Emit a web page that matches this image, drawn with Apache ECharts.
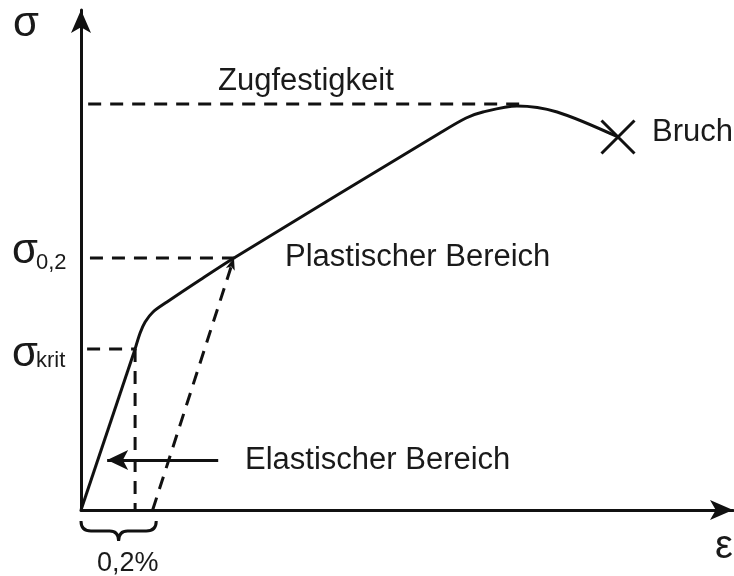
<!DOCTYPE html>
<html>
<head>
<meta charset="utf-8">
<script src="https://cdn.jsdelivr.net/npm/echarts@6/dist/echarts.min.js"></script>
<style>
  html, body { margin: 0; padding: 0; background: #fff; }
  #chart { width: 734px; height: 576px; }
</style>
</head>
<body>
<div id="chart"></div>
<script>
// Spannungs-Dehnungs-Diagramm (schematisch), Dehnung in %, Spannung in MPa
const elasticStrain = [0, 0.151];
const elasticStress = [0, 161];
const curveStrain = [0.151, 0.165, 0.179, 0.201, 0.240, 0.332, 0.427, 1.002, 1.075, 1.122, 1.217, 1.329, 1.499];
const curveStress = [161, 177, 188, 198, 208, 230, 252, 377, 392, 398, 404, 398, 373];
const tensileStrength = 406;      // Zugfestigkeit
const tensileStrain = 1.239;      // Ende der gestrichelten Linie
const sigma02 = 252;
const sigma02Strain = 0.427;
const sigmaKrit = 161;
const sigmaKritStrain = 0.151;
const offsetStrain = 0.2;         // 0,2 % bleibende Dehnung
const breakPoint = [1.499, 373];  // Bruch
const arrowFrom = [0.383, 50];
const arrowTo = [0.073, 50];
const brace = [0, 0.21];

const ink = "#111";
const font = "'Liberation Sans', Arial, sans-serif";
const dash = [13, 9];

function pairs(xs, ys) {
  return xs.map((x, i) => [x, ys[i]]);
}

function dashed(data) {
  return {
    type: "line",
    data: data,
    symbol: "none",
    silent: true,
    lineStyle: { color: ink, width: 3, type: dash }
  };
}

function label(text, x, y, size) {
  return {
    type: "text",
    x: x,
    y: y,
    silent: true,
    style: {
      text: text,
      fill: "#1a1a1a",
      font: size + "px " + font,
      align: "left",
      verticalAlign: "middle"
    }
  };
}

let option = {
  animation: false,
  backgroundColor: "#fff",
  grid: { left: 81, right: 1, top: 10, bottom: 66 },
  xAxis: {
    type: "value",
    min: 0,
    max: 1.82,
    axisLine: {
      show: true,
      symbol: ["none", "arrow"],
      symbolSize: [15, 23],
      lineStyle: { color: ink, width: 3 }
    },
    axisTick: { show: false },
    axisLabel: { show: false },
    splitLine: { show: false }
  },
  yAxis: {
    type: "value",
    min: 0,
    max: 500,
    axisLine: {
      show: true,
      symbol: ["none", "arrow"],
      symbolSize: [15, 23],
      lineStyle: { color: ink, width: 3 }
    },
    axisTick: { show: false },
    axisLabel: { show: false },
    splitLine: { show: false }
  },
  series: [
    // Hilfslinien
    dashed([[0.02, tensileStrength], [tensileStrain, tensileStrength]]),
    dashed([[0.025, sigma02], [sigma02Strain, sigma02]]),
    dashed([[0.017, sigmaKrit], [sigmaKritStrain, sigmaKrit]]),
    dashed([[sigmaKritStrain, sigmaKrit], [sigmaKritStrain, 0]]),
    {
      type: "line",
      data: [],
      silent: true,
      markLine: {
        silent: true,
        animation: false,
        label: { show: false },
        symbol: ["none", "arrow"],
        symbolSize: [7, 12],
        lineStyle: { color: ink, width: 3, type: dash },
        data: [[{ coord: [offsetStrain, 0] }, { coord: [sigma02Strain, sigma02] }]]
      }
    },
    {
      type: "line",
      data: [],
      silent: true,
      markLine: {
        silent: true,
        animation: false,
        label: { show: false },
        symbol: ["none", "arrow"],
        symbolSize: [15, 21],
        lineStyle: { color: ink, width: 3, type: "solid" },
        data: [[{ coord: arrowFrom }, { coord: arrowTo }]]
      }
    },
    // elastischer Bereich
    {
      type: "line",
      data: pairs(elasticStrain, elasticStress),
      symbol: "none",
      lineStyle: { color: ink, width: 3 }
    },
    // plastischer Bereich
    {
      type: "line",
      data: pairs(curveStrain, curveStress),
      symbol: "none",
      smooth: 0.3,
      lineStyle: { color: ink, width: 3, cap: "round", join: "round" }
    },
    // Bruch
    {
      type: "scatter",
      data: [breakPoint],
      symbol: "path://M0,0L32,32M32,0L0,32",
      symbolSize: 33,
      itemStyle: { color: "none", borderColor: ink, borderWidth: 3, opacity: 1 }
    },
    // Klammer unter 0,2 %
    {
      type: "custom",
      data: [brace],
      encode: { x: [0, 1] },
      renderItem: function(params, api) {
        const a = api.coord([api.value(0), 0]);
        const b = api.coord([api.value(1), 0]);
        const y0 = a[1] + 11;
        const d = 10;
        const xm = (a[0] + b[0]) / 2;
        const p = [
          "M", a[0], y0,
          "Q", a[0], y0 + d, a[0] + 10, y0 + d,
          "L", xm - 9, y0 + d,
          "Q", xm, y0 + d, xm, y0 + d + 10,
          "Q", xm, y0 + d, xm + 9, y0 + d,
          "L", b[0] - 10, y0 + d,
          "Q", b[0], y0 + d, b[0], y0
        ].join(" ");
        return {
          type: "path",
          shape: { pathData: p },
          style: { fill: "none", stroke: ink, lineWidth: 3 }
        };
      }
    }
  ],
  graphic: [
    label("σ", 13, 24, 42),
    label("ε", 715, 547, 40),
    label("Zugfestigkeit", 218, 81, 31),
    label("Bruch", 652, 132, 31),
    label("Plastischer Bereich", 285, 257, 31),
    label("Elastischer Bereich", 245, 460, 31),
    label("0,2%", 97, 564, 27),
    label("σ", 12, 251, 42),
    label("0,2", 36, 263, 22),
    label("σ", 12, 354, 42),
    label("krit", 36, 361, 22)
  ]
};

let myChart = echarts.init(document.getElementById("chart"));
myChart.setOption(option);
</script>
</body>
</html>
